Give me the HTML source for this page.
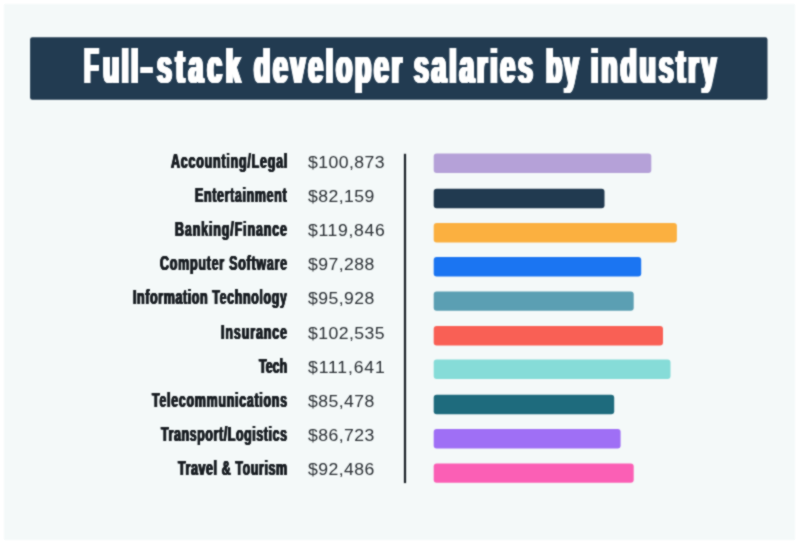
<!DOCTYPE html>
<html lang="en"><head><meta charset="utf-8"><title>Full-stack developer salaries by industry</title>
<style>
html,body{margin:0;padding:0;background:#ffffff;}
body{width:800px;height:545px;overflow:hidden;position:relative;font-family:"Liberation Sans",sans-serif;}
.bg{position:absolute;left:4px;top:4px;width:791px;height:536px;background:#f4f9f9;}
.hd{position:absolute;left:30.1px;top:37.2px;width:737.4px;height:62.6px;border-radius:2px;background:#223b51;}
.ax{position:absolute;left:404.1px;top:153.8px;width:2.2px;height:329.3px;background:#1b2228;}
.pg{position:absolute;left:0;top:0;width:800px;height:545px;filter:url(#soft);}
.sh{position:absolute;left:0;top:0;display:block;}
.t,.T,.l,.v{position:absolute;white-space:pre;line-height:1;transform-origin:0 0;margin:0;padding:0;}
.t{font-weight:bold;color:#ffffff;font-size:48.5px;transform:scaleX(0.55);text-shadow:0.68px 0.00px 0 #ffffff,-0.68px 0.00px 0 #ffffff,1.36px 0.00px 0 #ffffff,-1.36px 0.00px 0 #ffffff,2.05px 0.00px 0 #ffffff,-2.05px 0.00px 0 #ffffff,2.73px 0.00px 0 #ffffff,-2.73px 0.00px 0 #ffffff;}
.T{font-weight:bold;color:#ffffff;font-size:49.6px;transform:scaleX(0.55);text-shadow:0.68px 0.00px 0 #ffffff,-0.68px 0.00px 0 #ffffff,1.36px 0.00px 0 #ffffff,-1.36px 0.00px 0 #ffffff,2.05px 0.00px 0 #ffffff,-2.05px 0.00px 0 #ffffff,2.73px 0.00px 0 #ffffff,-2.73px 0.00px 0 #ffffff;}
.l{font-weight:bold;color:#1a1f24;font-size:19.5px;transform:scaleX(0.64);text-shadow:0.35px 0.00px 0 #1a1f24,-0.35px 0.00px 0 #1a1f24,0.70px 0.00px 0 #1a1f24,-0.70px 0.00px 0 #1a1f24;}
.v{font-weight:normal;color:#2a2f34;font-size:16.0px;transform:scaleX(1.1);}
</style></head>
<body>
<svg width="0" height="0" style="position:absolute"><defs><filter id="soft" x="0" y="0" width="100%" height="100%" color-interpolation-filters="sRGB"><feConvolveMatrix order="3" kernelMatrix="1 2 1 2 9 2 1 2 1" divisor="21" edgeMode="duplicate" preserveAlpha="false"/></filter></defs></svg>
<div class="pg">
<svg class="sh" width="800" height="545" viewBox="0 0 800 545">
<rect x="4" y="4" width="791" height="536" fill="#f4f9f9"/>
<rect x="30.1" y="37.2" width="737.4" height="62.6" rx="2.2" fill="#223b51"/>
<rect x="403.9" y="153.8" width="2.2" height="329.3" fill="#1b2228"/>
<rect x="433.7" y="153.5" width="217.6" height="19.45" rx="3" fill="#b5a1d8"/>
<rect x="433.7" y="188.75" width="170.8" height="19.45" rx="3" fill="#213a50"/>
<rect x="433.7" y="223.05" width="243.2" height="19.45" rx="3" fill="#fbb040"/>
<rect x="433.7" y="256.95" width="207.5" height="19.45" rx="3" fill="#1b75f2"/>
<rect x="433.7" y="291.4" width="200.0" height="19.45" rx="3" fill="#5b9fb3"/>
<rect x="433.7" y="326.05" width="229.3" height="19.45" rx="3" fill="#f96055"/>
<rect x="433.7" y="359.55" width="236.8" height="19.45" rx="3" fill="#86dcd8"/>
<rect x="433.7" y="394.75" width="180.5" height="19.45" rx="3" fill="#1e6b7d"/>
<rect x="433.7" y="429.1" width="186.9" height="19.45" rx="3" fill="#9f6ff5"/>
<rect x="433.7" y="463.4" width="200.0" height="19.45" rx="3" fill="#fb5fb5"/>
</svg>
<h1 style="margin:0;font-size:0"><span class="T" style="left:83.98px;top:42px;transform:scaleX(0.4898);">F</span><span class="t" style="left:102.82px;top:42px;letter-spacing:3.92px;">ull</span><span class="t" style="left:140.87px;top:42px;transform:scaleX(0.6939);">-</span><span class="t" style="left:156.67px;top:42px;letter-spacing:7.03px;">stack</span> <span class="t" style="left:254.42px;top:42px;letter-spacing:4.99px;">developer</span> <span class="t" style="left:413.87px;top:42px;letter-spacing:5.03px;">salaries</span> <span class="t" style="left:545.93px;top:42px;letter-spacing:2.67px;">by</span> <span class="t" style="left:591.31px;top:42px;letter-spacing:5.21px;">industry</span></h1>
<span class="l" style="left:171.22px;top:152px;letter-spacing:1.21px;">Accounting/Legal</span>
<span class="v" style="left:308.40px;top:155px;letter-spacing:0.40px;">$100,873</span>
<span class="l" style="left:195.11px;top:186px;letter-spacing:1.00px;">Entertainment</span>
<span class="v" style="left:308.40px;top:189px;letter-spacing:0.42px;">$82,159</span>
<span class="l" style="left:174.51px;top:220px;letter-spacing:1.35px;">Banking/Finance</span>
<span class="v" style="left:308.40px;top:223px;letter-spacing:0.60px;">$119,846</span>
<span class="l" style="left:159.99px;top:254px;letter-spacing:1.17px;">Computer Software</span>
<span class="v" style="left:308.40px;top:257px;letter-spacing:0.39px;">$97,288</span>
<span class="l" style="left:132.73px;top:288px;letter-spacing:0.94px;">Information Technology</span>
<span class="v" style="left:308.40px;top:291px;letter-spacing:0.39px;">$95,928</span>
<span class="l" style="left:221.48px;top:323px;letter-spacing:1.38px;">Insurance</span>
<span class="v" style="left:308.40px;top:326px;letter-spacing:0.42px;">$102,535</span>
<span class="l" style="left:258.56px;top:357px;letter-spacing:-0.00px;">Tech</span>
<span class="v" style="left:308.40px;top:360px;letter-spacing:0.77px;">$111,641</span>
<span class="l" style="left:151.56px;top:391px;letter-spacing:1.09px;">Telecommunications</span>
<span class="v" style="left:308.40px;top:394px;letter-spacing:0.39px;">$85,478</span>
<span class="l" style="left:161.31px;top:425px;letter-spacing:0.89px;">Transport/Logistics</span>
<span class="v" style="left:308.40px;top:428px;letter-spacing:0.39px;">$86,723</span>
<span class="l" style="left:178.31px;top:459px;letter-spacing:0.92px;">Travel &amp; Tourism</span>
<span class="v" style="left:308.40px;top:462px;letter-spacing:0.40px;">$92,486</span>
</div>
</body></html>
